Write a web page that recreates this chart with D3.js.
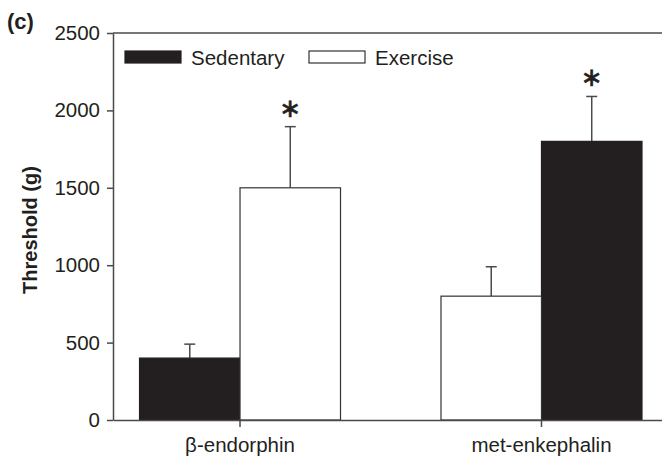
<!DOCTYPE html>
<html>
<head>
<meta charset="utf-8">
<script src="https://cdn.jsdelivr.net/npm/d3@7"></script>
<style>
  html, body { margin: 0; padding: 0; background: #fff; }
  svg { display: block; font-family: "Liberation Sans", Arial, sans-serif; }
</style>
</head>
<body>
<svg id="chart" width="662" height="460"></svg>
<script>
// Peptides tested and the bar order used within each group
const categories = ["β-endorphin", "met-enkephalin"];
const groups = ["Sedentary", "Exercise"];
const barOrder = [["Sedentary", "Exercise"], ["Exercise", "Sedentary"]];

// Mean withdrawal threshold (g) and upper error (g) per group
const sedentaryMeans = [400, 1800];
const exerciseMeans = [1500, 800];
const sedentaryErr = [90, 290];
const exerciseErr = [395, 190];

// Significance markers per category (which group is starred)
const starred = ["Exercise", "Sedentary"];

const yTicks = [0, 500, 1000, 1500, 2000, 2500];

const ink = "#231f20";
const axisCol = "#4a4a4a";
const fontSize = 20.5;

const svg = d3.select("#chart");
const plotLeft = 113, plotTop = 33, plotBottom = 420, plotRight = 668.5;

const y = d3.scaleLinear().domain([0, 2500]).range([plotBottom, plotTop]);
const x = d3.scaleBand().domain(categories).range([plotLeft, plotRight])
  .paddingInner(1 / 3).paddingOuter(0.088);

const rows = [];
categories.forEach((c, i) => {
  const sub = d3.scaleBand().domain(barOrder[i]).range([0, x.bandwidth()]);
  groups.forEach(g => {
    const mean = g === "Sedentary" ? sedentaryMeans[i] : exerciseMeans[i];
    const err = g === "Sedentary" ? sedentaryErr[i] : exerciseErr[i];
    rows.push({ cat: c, group: g, mean, err, x0: x(c) + sub(g), w: sub.bandwidth(), star: starred[i] === g });
  });
});

// Error bars (drawn first so the bar edge covers their base)
const eb = svg.append("g");
rows.forEach(d => {
  const cx = d.x0 + d.w / 2;
  eb.append("line").attr("x1", cx).attr("x2", cx)
    .attr("y1", y(d.mean)).attr("y2", y(d.mean + d.err))
    .attr("stroke", axisCol).attr("stroke-width", 1.5);
  eb.append("line").attr("x1", cx - 5.5).attr("x2", cx + 5.5)
    .attr("y1", y(d.mean + d.err)).attr("y2", y(d.mean + d.err))
    .attr("stroke", axisCol).attr("stroke-width", 1.5);
  if (d.star) {
    eb.append("text").attr("x", cx).attr("y", y(d.mean + d.err) - 10)
      .attr("text-anchor", "middle")
      .attr("font-family", "DejaVu Sans")
      .attr("font-size", 26).attr("fill", ink)
      .attr("stroke", ink).attr("stroke-width", 0.6).text("∗");
  }
});

// Bars
svg.append("g").selectAll("rect").data(rows).join("rect")
  .attr("x", d => d.x0).attr("width", d => d.w)
  .attr("y", d => y(d.mean)).attr("height", d => plotBottom - y(d.mean))
  .attr("fill", d => d.group === "Sedentary" ? ink : "#fff")
  .attr("stroke", d => d.group === "Sedentary" ? ink : "#333")
  .attr("stroke-width", 1.2);

// Y axis
const yAxis = svg.append("g").attr("transform", `translate(${plotLeft},0)`)
  .call(d3.axisLeft(y).tickValues(yTicks).tickFormat(d3.format("d"))
    .tickSize(6).tickPadding(7).tickSizeOuter(0));
yAxis.select(".domain").attr("stroke", axisCol).attr("stroke-width", 1.5);
yAxis.selectAll(".tick line").attr("stroke", axisCol).attr("stroke-width", 1.5);
yAxis.selectAll(".tick text").attr("font-size", fontSize).attr("fill", ink)
  .attr("font-family", "Liberation Sans, Arial, sans-serif");

// Top frame line at the axis maximum
svg.append("line").attr("x1", plotLeft).attr("x2", 662)
  .attr("y1", y(2500)).attr("y2", y(2500))
  .attr("stroke", axisCol).attr("stroke-width", 1.5);

// X axis
const xAxis = svg.append("g").attr("transform", `translate(0,${plotBottom})`)
  .call(d3.axisBottom(x).tickSize(7).tickPadding(10).tickSizeOuter(0));
xAxis.select(".domain").attr("stroke", axisCol).attr("stroke-width", 1.5);
xAxis.selectAll(".tick line").attr("stroke", axisCol).attr("stroke-width", 1.5);
xAxis.selectAll(".tick text").attr("font-size", fontSize).attr("fill", ink)
  .attr("font-family", "Liberation Sans, Arial, sans-serif");

// Y title
svg.append("text")
  .attr("transform", `translate(37,230) rotate(-90)`)
  .attr("text-anchor", "middle").attr("font-size", 20).attr("font-weight", "bold")
  .attr("fill", ink).text("Threshold (g)");

// Panel letter
svg.append("text").attr("x", 7).attr("y", 28.5)
  .attr("font-size", 22).attr("font-weight", "bold").attr("fill", ink).text("(c)");

// Legend
const legend = svg.append("g");
groups.forEach((g, i) => {
  const lx = [125, 309][i];
  legend.append("rect").attr("x", lx).attr("y", 51).attr("width", 56).attr("height", 12)
    .attr("fill", g === "Sedentary" ? ink : "#fff")
    .attr("stroke", g === "Sedentary" ? ink : "#333").attr("stroke-width", 1.2);
  legend.append("text").attr("x", lx + 66).attr("y", 64.5)
    .attr("font-size", fontSize).attr("fill", ink).text(g);
});
</script>
</body>
</html>
